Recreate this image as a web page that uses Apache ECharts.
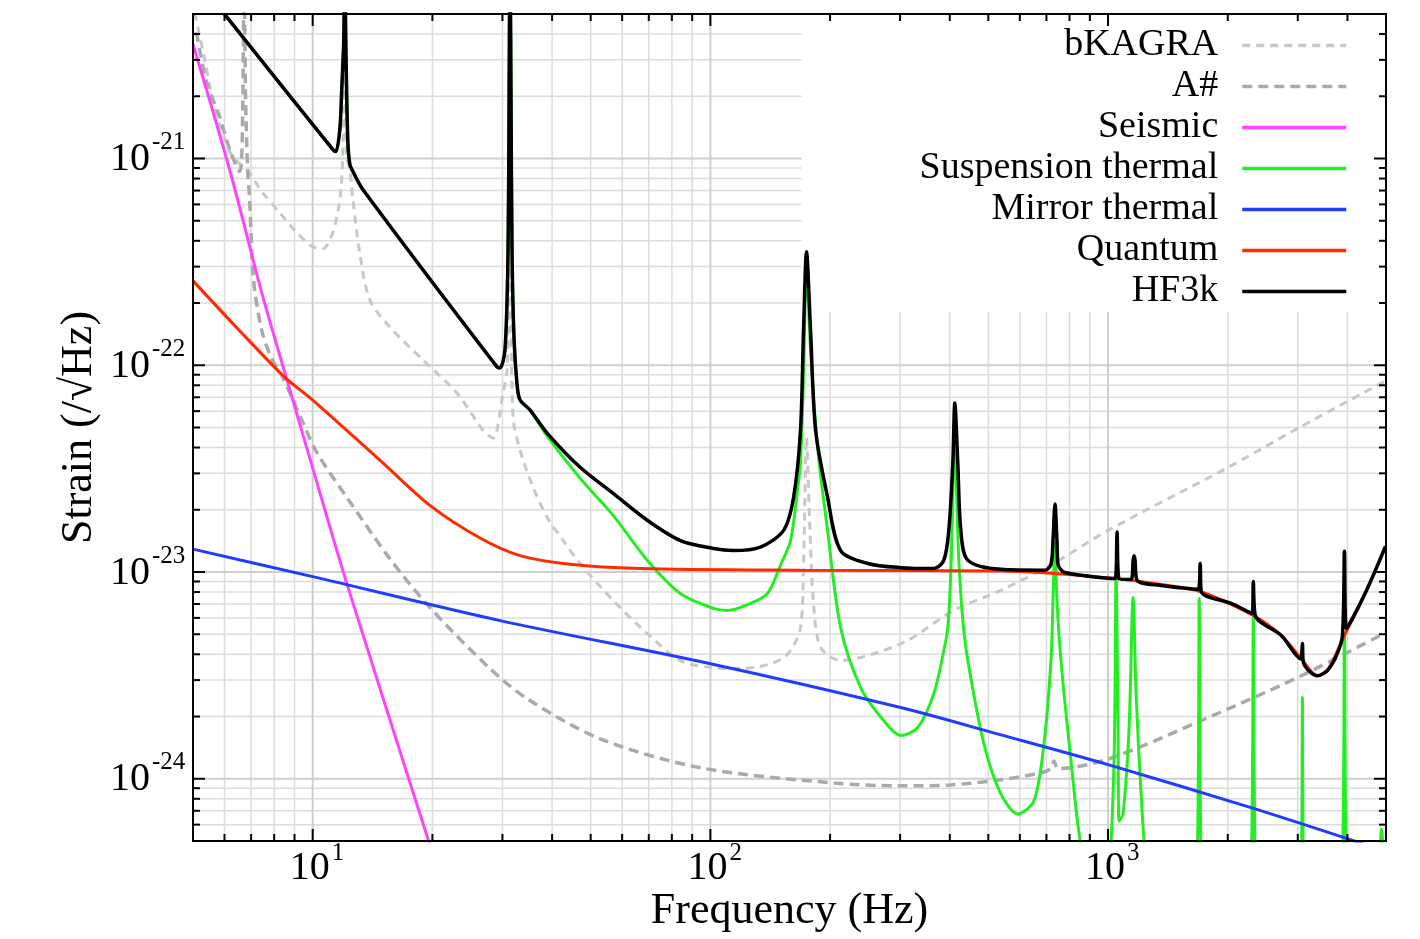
<!DOCTYPE html>
<html><head><meta charset="utf-8">
<script src="https://cdn.jsdelivr.net/npm/echarts@6/dist/echarts.min.js"></script>
<style>html,body{margin:0;padding:0;background:#fff}#c{width:1420px;height:939px}</style>
</head><body><div id="c"></div>
<script>
// ---------- data: [frequency (Hz), strain (/sqrt Hz)] ----------
const bKAGRA = [[5.05,5.05e-21],[5.35,3.02e-21],[5.60,1.93e-21],[5.93,1.34e-21],[6.29,1.02e-21],[6.82,8.85e-22],[7.48,6.84e-22],[8.26,5.47e-22],[9.12,4.38e-22],[10.0,3.74e-22],[10.6,3.66e-22],[11.23,4.38e-22],[11.70,6.33e-22],[11.90,1.02e-21],[12.04,3.0e-21],[12.18,1.02e-21],[12.40,8.85e-22],[12.62,6.33e-22],[13.13,3.50e-22],[13.92,2.07e-22],[15.63,1.53e-22],[18.93,1.06e-22],[23.05,7.34e-23],[26.81,4.85e-23],[28.41,4.44e-23],[30.10,7.34e-23],[30.81,9.49e-23],[31.35,3.0e-22],[31.90,5.61e-23],[33.22,3.88e-23],[35.83,2.57e-23],[38.85,1.84e-23],[42.64,1.42e-23],[47.04,1.10e-23],[56.97,7.28e-24],[69.38,5.04e-24],[84.04,3.73e-24],[100,3.45e-24],[119.0,3.41e-24],[152.8,3.85e-24],[168.5,5.38e-24],[171.5,1.10e-23],[174.5,4.49e-23],[177.6,1.78e-23],[181.7,7.05e-24],[189.3,4.32e-24],[212.6,3.73e-24],[248.7,3.94e-24],[313.5,4.67e-24],[409.4,6.52e-24],[537.7,8.15e-24],[735.5,1.11e-23],[1000,1.59e-23],[2006,3.21e-23],[3010,4.97e-23],[4985,8.39e-23]];
const aSharp = [[5.10,4.08e-21],[5.41,2.33e-21],[5.83,1.60e-21],[6.18,1.11e-21],[6.55,8.65e-22],[6.66,1.5e-21],[6.72,8e-21],[6.78,1.93e-21],[6.86,9.0e-22],[6.94,6.33e-22],[7.10,2.59e-22],[7.44,1.48e-22],[7.88,1.08e-22],[8.40,8.77e-23],[9.27,5.74e-23],[10.23,3.80e-23],[12.18,2.30e-23],[15.63,1.16e-23],[19.71,6.73e-24],[27.92,3.41e-24],[34.60,2.44e-24],[52.84,1.56e-24],[94.37,1.13e-24],[204.1,9.54e-25],[301.1,9.24e-25],[402.3,9.34e-25],[537.7,9.88e-25],[678.2,1.07e-24],[718.6,1.12e-24],[731.2,1.22e-24],[748.4,1.12e-24],[1006,1.25e-24],[1735,1.93e-24],[3063,3.15e-24],[4985,5.09e-24]];
const seismic = [[5.0,3.57e-21],[6.18,8.85e-22],[7.48,2.17e-22],[8.50,9.28e-23],[10.0,3.18e-23],[12.18,8.81e-24],[19.49,5.11e-25],[19.8,4.6e-25]];
const suspension = [[6.00,4.99e-21],[11.23,1.106e-21],[11.43,1.08e-21],[11.70,1.38e-21],[11.83,2.16e-21],[11.97,3.78e-21],[12.04,1.0e-20],[12.11,3.78e-21],[12.25,1.24e-21],[12.40,9.35e-22],[12.62,8.65e-22],[13.37,7.08e-22],[29.07,9.82e-23],[29.58,9.71e-23],[30.45,1.19e-22],[30.99,3.62e-22],[31.17,1.93e-21],[31.35,1.0e-20],[31.53,1.93e-21],[31.71,3.62e-22],[32.09,1.33e-22],[32.66,8.02e-23],[33.22,6.79e-23],[35.21,6.07e-23],[38.85,4.54e-23],[47.04,2.84e-23],[56.97,1.88e-23],[69.38,1.14e-23],[84.04,7.87e-24],[101.8,6.67e-24],[110.4,6.52e-24],[126.1,7.05e-24],[139.2,7.87e-24],[150.1,1.08e-23],[159.1,1.42e-23],[165.6,2.49e-23],[168.5,3.36e-23],[171.5,9.0e-23],[174.5,2.9e-22],[178.6,1.19e-22],[186.0,4.02e-23],[197.1,1.59e-23],[212.6,5.38e-24],[238.8,2.76e-24],[272.9,1.91e-24],[301.1,1.62e-24],[332.2,1.77e-24],[364.6,2.58e-24],[386.4,4.17e-24],[395.4,5.38e-24],[402.3,9.84e-24],[407.0,2.22e-23],[411.8,5.43e-23],[416.6,2.22e-23],[421.5,1.14e-23],[431.4,5.82e-24],[444.1,3.73e-24],[487.2,1.48e-24],[537.7,8.45e-25],[593.3,6.76e-25],[651.2,7.82e-25],[690.1,1.48e-24],[718.6,3.73e-24],[727.0,7.28e-24],[735.5,1.39e-23],[744.0,7.28e-24],[761.5,3.73e-24],[807.0,1.22e-24],[855.1,4.73e-25],[950,2e-25],[1000,3e-25],[1035.4,1.22e-24],[1047.6,9.62e-24],[1059.8,1.77e-24],[1066.0,6.25e-25],[1091.0,6.76e-25],[1129.6,1.77e-24],[1156.2,7.53e-24],[1176.3,2.58e-24],[1211,8.45e-25],[1246.6,4.0e-25],[1400,1e-25],[1675.8,4e-25],[1695.3,7.45e-24],[1715.4,4e-25],[2000,1e-25],[2292,4e-25],[2319,6.10e-24],[2346,4e-25],[2700,1e-25],[3063,4e-25],[3081,2.47e-24],[3099,4e-25],[3500,1e-25],[3885,4e-25],[3931,5.04e-24],[3976,4e-25],[4500,1e-25],[4815,4e-25],[4872,5.72e-25],[4929,4e-25],[4985,1e-25]];
const mirror = [[5.0,1.29e-23],[10.0,9.5e-24],[29.6,5.82e-24],[100,3.6e-24],[301,2.21e-24],[538,1.63e-24],[1000,1.17e-24],[2300,7.23e-25],[4400,4.83e-25]];
const quantum = [[5.0,2.56e-22],[6.55,1.47e-22],[8.50,8.77e-23],[10.0,6.79e-23],[14.75,3.48e-23],[19.71,2.10e-23],[26.35,1.46e-23],[33.22,1.20e-23],[44.4,1.09e-23],[66.6,1.04e-23],[168.5,1.02e-23],[537.7,1.01e-23],[735.5,9.84e-24],[1053.6,9.29e-24],[1359.8,8.71e-24],[1705.1,8.05e-24],[2319,6.16e-24],[2728,4.93e-24],[3063,3.81e-24],[3361,3.15e-24],[3561,3.34e-24],[3931,4.93e-24],[4466,8.15e-24],[4985,1.33e-23]];
const hf3k = [[6.00,4.99e-21],[11.23,1.106e-21],[11.43,1.08e-21],[11.70,1.38e-21],[11.83,2.16e-21],[11.97,3.78e-21],[12.04,1.0e-20],[12.11,3.78e-21],[12.25,1.24e-21],[12.40,9.35e-22],[12.62,8.65e-22],[13.37,7.08e-22],[29.07,9.82e-23],[29.58,9.71e-23],[30.45,1.19e-22],[30.99,3.62e-22],[31.17,1.93e-21],[31.35,1.0e-20],[31.53,1.93e-21],[31.71,3.62e-22],[32.09,1.33e-22],[32.66,8.02e-23],[33.22,6.79e-23],[35.21,6.07e-23],[38.85,4.70e-23],[47.04,3.21e-23],[56.97,2.40e-23],[69.38,1.78e-23],[84.04,1.42e-23],[101.8,1.30e-23],[114.3,1.27e-23],[133.6,1.32e-23],[152.8,1.59e-23],[161.9,2.30e-23],[168.5,4.85e-23],[171.5,1.48e-22],[174.5,3.54e-22],[178.6,1.48e-22],[183.9,4.85e-23],[197.1,2.30e-23],[212.6,1.27e-23],[248.7,1.10e-23],[301.1,1.05e-23],[364.6,1.04e-23],[386.4,1.14e-23],[397.7,1.59e-23],[407.0,3.36e-23],[411.8,6.57e-23],[419.0,3.36e-23],[426.4,1.59e-23],[444.1,1.14e-23],[537.7,1.03e-23],[694.0,1.02e-23],[718.6,1.09e-23],[727.0,1.42e-23],[735.5,2.13e-23],[744.0,1.42e-23],[748.4,1.09e-23],[779.3,9.94e-24],[1041.3,9.29e-24],[1053.6,1.56e-23],[1066.0,9.29e-24],[1142.7,9.20e-24],[1156.2,1.14e-23],[1162.9,1.20e-23],[1169.5,1.14e-23],[1183.1,9.10e-24],[1359.8,8.61e-24],[1685.6,8.24e-24],[1705.1,1.10e-23],[1715.4,8.05e-24],[2041,7.05e-24],[2305,6.30e-24],[2319,9.00e-24],[2346,6.16e-24],[2728,4.93e-24],[3045,3.81e-24],[3081,4.51e-24],[3099,3.65e-24],[3361,3.15e-24],[3561,3.34e-24],[3752,3.94e-24],[3885,4.93e-24],[3931,1.26e-23],[3976,5.33e-24],[4466,8.15e-24],[4985,1.33e-23]];

// ---------- axes / ticks ----------
const X_MIN = 5, X_MAX = 5000, Y_MIN = 5e-25, Y_MAX = 5e-21;
const xMajorTicks = [10, 100, 1000];
const xMajorExp = ['1', '2', '3'];
const xMinorTicks = [6,7,8,9,20,30,40,50,60,70,80,90,200,300,400,500,600,700,800,900,2000,3000,4000];
const yMajorTicks = [1e-24, 1e-23, 1e-22, 1e-21];
const yMajorExp = ['-24', '-23', '-22', '-21'];
const yMinorTicks = [6e-25,7e-25,8e-25,9e-25,2e-24,3e-24,4e-24,5e-24,6e-24,7e-24,8e-24,9e-24,2e-23,3e-23,4e-23,5e-23,6e-23,7e-23,8e-23,9e-23,2e-22,3e-22,4e-22,5e-22,6e-22,7e-22,8e-22,9e-22,2e-21,3e-21,4e-21];

const FONT = '"Liberation Serif", "Times New Roman", serif';

function ln(p0, p1, color, w) {
  return {type: 'line', shape: {x1: p0[0], y1: p0[1], x2: p1[0], y2: p1[1]}, style: {stroke: color, lineWidth: w}};
}

function renderGrid(params, api) {
  const ch = [];
  xMinorTicks.forEach(v => ch.push(ln(api.coord([v, Y_MIN]), api.coord([v, Y_MAX]), '#dcdcdc', 1.5)));
  yMinorTicks.forEach(v => ch.push(ln(api.coord([X_MIN, v]), api.coord([X_MAX, v]), '#dcdcdc', 1.5)));
  xMajorTicks.forEach(v => ch.push(ln(api.coord([v, Y_MIN]), api.coord([v, Y_MAX]), '#cfcfcf', 2)));
  yMajorTicks.forEach(v => ch.push(ln(api.coord([X_MIN, v]), api.coord([X_MAX, v]), '#cfcfcf', 2)));
  return {type: 'group', children: ch};
}

function renderFrame(params, api) {
  const ch = [];
  const tl = api.coord([X_MIN, Y_MAX]);
  const br = api.coord([X_MAX, Y_MIN]);
  const L = tl[0], T = tl[1], R = br[0], B = br[1];
  const tick = (v, len) => {
    const x = api.coord([v, Y_MIN])[0];
    ch.push(ln([x, B], [x, B - len], '#000', 2));
    ch.push(ln([x, T], [x, T + len], '#000', 2));
  };
  const ytick = (v, len) => {
    const y = api.coord([X_MIN, v])[1];
    ch.push(ln([L, y], [L + len, y], '#000', 2));
    ch.push(ln([R, y], [R - len, y], '#000', 2));
  };
  xMinorTicks.forEach(v => tick(v, 7));
  xMajorTicks.forEach(v => tick(v, 12));
  yMinorTicks.forEach(v => ytick(v, 7));
  yMajorTicks.forEach(v => ytick(v, 12));
  ch.push({type: 'rect', shape: {x: L, y: T, width: R - L, height: B - T}, style: {fill: 'none', stroke: '#000', lineWidth: 2}});
  xMajorTicks.forEach((v, i) => {
    const x = api.coord([v, Y_MIN])[0];
    ch.push({type: 'text', x: x + 17, y: B + 27, style: {text: '10', font: '40px ' + FONT, fill: '#000', align: 'right', verticalAlign: 'middle'}});
    ch.push({type: 'text', x: x + 19, y: B + 12, style: {text: xMajorExp[i], font: '25px ' + FONT, fill: '#000', align: 'left', verticalAlign: 'middle'}});
  });
  yMajorTicks.forEach((v, i) => {
    const y = api.coord([X_MIN, v])[1];
    ch.push({type: 'text', x: L - 43, y: y + 1, style: {text: '10', font: '40px ' + FONT, fill: '#000', align: 'right', verticalAlign: 'middle'}});
    ch.push({type: 'text', x: L - 41, y: y - 16, style: {text: yMajorExp[i], font: '25px ' + FONT, fill: '#000', align: 'left', verticalAlign: 'middle'}});
  });
  return {type: 'group', children: ch};
}

function lineSeries(name, data, color, width, dash, smooth) {
  return {
    name, type: 'line', data, symbol: 'none', showSymbol: false, smooth: smooth || 0, z: 2,
    lineStyle: {color, width, type: dash || 'solid'}, itemStyle: {color},
    emphasis: {disabled: true}, silent: true, clip: true
  };
}

const chart = echarts.init(document.getElementById('c'), null, {width: 1420, height: 939, renderer: 'canvas'});
chart.setOption({
  animation: false,
  backgroundColor: '#ffffff',
  grid: {left: 193, top: 14, width: 1193, height: 827, containLabel: false},
  xAxis: {
    type: 'log', logBase: 10, min: X_MIN, max: X_MAX,
    axisLine: {show: false}, axisTick: {show: false}, axisLabel: {show: false}, splitLine: {show: false},
    name: 'Frequency (Hz)', nameLocation: 'middle', nameGap: 48,
    nameTextStyle: {fontFamily: FONT, fontSize: 44, color: '#000'}
  },
  yAxis: {
    type: 'log', logBase: 10, min: Y_MIN, max: Y_MAX,
    axisLine: {show: false}, axisTick: {show: false}, axisLabel: {show: false}, splitLine: {show: false},
    name: 'Strain (/\u221AHz)', nameLocation: 'middle', nameGap: 92,
    nameTextStyle: {fontFamily: FONT, fontSize: 44, color: '#000'}
  },
  legend: {
    data: ['bKAGRA', 'A#', 'Seismic', 'Suspension thermal', 'Mirror thermal', 'Quantum', 'HF3k'],
    orient: 'vertical', right: 34, top: 14, align: 'right',
    itemWidth: 104, itemHeight: 14, itemGap: 0,
    padding: [11, 38, 0, 118],
    backgroundColor: '#ffffff', z: 1, selectedMode: false,
    itemStyle: {opacity: 0},
    lineStyle: {width: 3.5},
    textStyle: {fontFamily: FONT, fontSize: 38, color: '#000', lineHeight: 41, padding: [0, 19, 0, 0]}
  },
  series: [
    {type: 'custom', name: '_grid', coordinateSystem: 'cartesian2d', z: 0, silent: true, data: [[10, 1e-23]], renderItem: renderGrid},
    lineSeries('bKAGRA', bKAGRA, '#c8c8c8', 3, [8, 6], 0.3),
    lineSeries('A#', aSharp, '#aaaaaa', 3.5, [10, 6], 0.3),
    lineSeries('Seismic', seismic, '#ff44ff', 3, null, 0.3),
    lineSeries('Suspension thermal', suspension, '#22ee22', 3, null, 0.3),
    lineSeries('Mirror thermal', mirror, '#1f3cff', 3, null, 0.3),
    lineSeries('Quantum', quantum, '#ff2a00', 3, null, 0.3),
    lineSeries('HF3k', hf3k, '#000000', 3.5, null, 0.3),
    {type: 'custom', name: '_frame', coordinateSystem: 'cartesian2d', z: 10, silent: true, data: [[10, 1e-23]], renderItem: renderFrame}
  ]
});
</script>
</body></html>
